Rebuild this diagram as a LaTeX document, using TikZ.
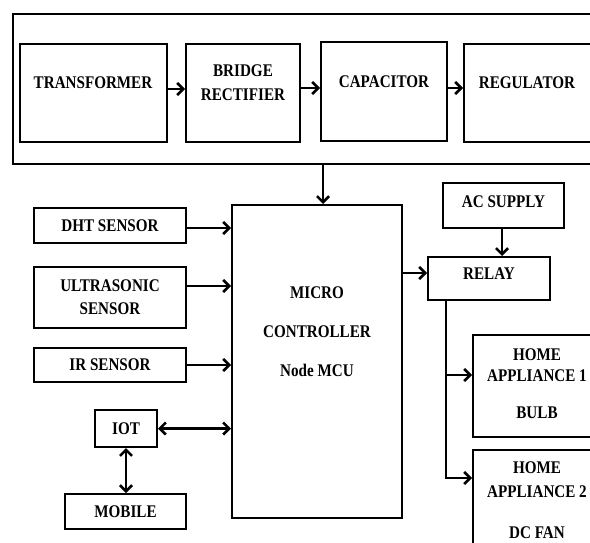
\documentclass[tikz,border=0pt]{standalone}
\usepackage{fontspec}
\setmainfont{Liberation Serif}[FakeStretch=0.85]
\usetikzlibrary{arrows.meta,positioning}

\begin{document}
\begin{tikzpicture}[
  x=1pt, y=-1pt,
  >={Straight Barb[length=6pt,width=12pt,line width=2.6pt]},
  blk/.style={draw=black, line width=2pt, inner sep=0pt, font=\fontsize{17.8}{21}\selectfont\bfseries, align=center},
  lbl/.style={inner sep=0pt, font=\fontsize{17.8}{21}\selectfont\bfseries, align=center},
  arrow/.style={->, line width=2.2pt},
  dbl/.style={<->, line width=2.2pt}
]
  \useasboundingbox (0,0) rectangle (590,543);

  % Power supply chain
  \node[blk, line width=2.4pt, minimum width=587, minimum height=150] (psu) at (306.5,89) {};
  \node[blk, minimum width=147, minimum height=98] (trans) at (93.5,93) {};
  \node[blk, minimum width=114, minimum height=98] (bridge) at (243,93) {};
  \node[blk, minimum width=126, minimum height=99] (cap) at (384,91.5) {};
  \node[blk, minimum width=128, minimum height=98] (reg) at (528,93) {};

  \node[lbl] (trans-t) at (93,83) {TRANSFORMER};
  \node[lbl] (bridge-t) at (243,83) {BRIDGE\\[3pt]RECTIFIER};
  \node[lbl] (cap-t) at (384,82) {CAPACITOR};
  \node[lbl] (reg-t) at (527,83) {REGULATOR};

  \draw[arrow] ([yshift=4pt]trans.east) -- ([yshift=4pt]trans.east -| bridge.west);
  \draw[arrow] ([yshift=5pt]bridge.east) -- ([yshift=5pt]bridge.east -| cap.west);
  \draw[arrow] ([yshift=3.5pt]cap.east) -- ([yshift=3.5pt]cap.east -| reg.west);

  % Controller and inputs
  \node[blk, minimum width=170, minimum height=313] (mcu) at (317,361.5) {};
  \node[lbl] (mcu-t) at (317,332) {MICRO\\[18pt]CONTROLLER\\[18pt]Node MCU};

  \node[blk, minimum width=152, minimum height=35] (dht) at (110,225.5) {DHT SENSOR};
  \node[blk, minimum width=152, minimum height=61] (ultra) at (110,297.5) {ULTRASONIC\\[2pt]SENSOR};
  \node[blk, minimum width=152, minimum height=34] (ir) at (110,365) {IR SENSOR};
  \node[blk, minimum width=62, minimum height=37] (iot) at (126,428.5) {IOT};
  \node[blk, minimum width=121, minimum height=35] (mobile) at (125.5,511.5) {MOBILE};

  \draw[arrow] ([xshift=16.5pt]psu.south) -- ([xshift=6pt]mcu.north);
  \draw[arrow] ([yshift=-2.5pt]dht.east) -- ([yshift=-2.5pt]dht.east -| mcu.west);
  \draw[arrow] ([yshift=11.5pt]ultra.east) -- ([yshift=11.5pt]ultra.east -| mcu.west);
  \draw[arrow] (ir.east) -- (ir.east -| mcu.west);
  \draw[dbl] (iot.east) -- (iot.east -| mcu.west);
  \draw[dbl] (iot.south) -- (iot.south |- mobile.north);

  % Output side
  \node[blk, minimum width=121, minimum height=45] (ac) at (503.5,205.5) {};
  \node[lbl] (ac-t) at (503.5,202) {AC SUPPLY};
  \node[blk, minimum width=122, minimum height=43] (relay) at (489,278.5) {};
  \node[lbl] (relay-t) at (489,274) {RELAY};
  \node[blk, minimum width=129, minimum height=102] (ha1) at (537.5,386) {};
  \node[lbl] (ha1-t) at (537,383.5) {HOME\\APPLIANCE 1\\[16pt]BULB};
  \node[blk, minimum width=129, minimum height=110] (ha2) at (537.5,505) {};
  \node[lbl] (ha2-t) at (537,500.5) {HOME\\[3pt]APPLIANCE 2\\[20pt]DC FAN};

  \draw[arrow] ([yshift=5.5pt]relay.west -| mcu.east) -- ([yshift=5.5pt]relay.west);
  \draw[arrow] (ac.south -| 502,0) -- (relay.north -| 502,0);

  \coordinate (br) at ([xshift=19pt]relay.south west);
  \draw[arrow] (br) |- ([yshift=27pt]ha2.west);
  \draw[arrow] ([yshift=11pt]ha1.west -| br) -- ([yshift=11pt]ha1.west);

\end{tikzpicture}
\end{document}
